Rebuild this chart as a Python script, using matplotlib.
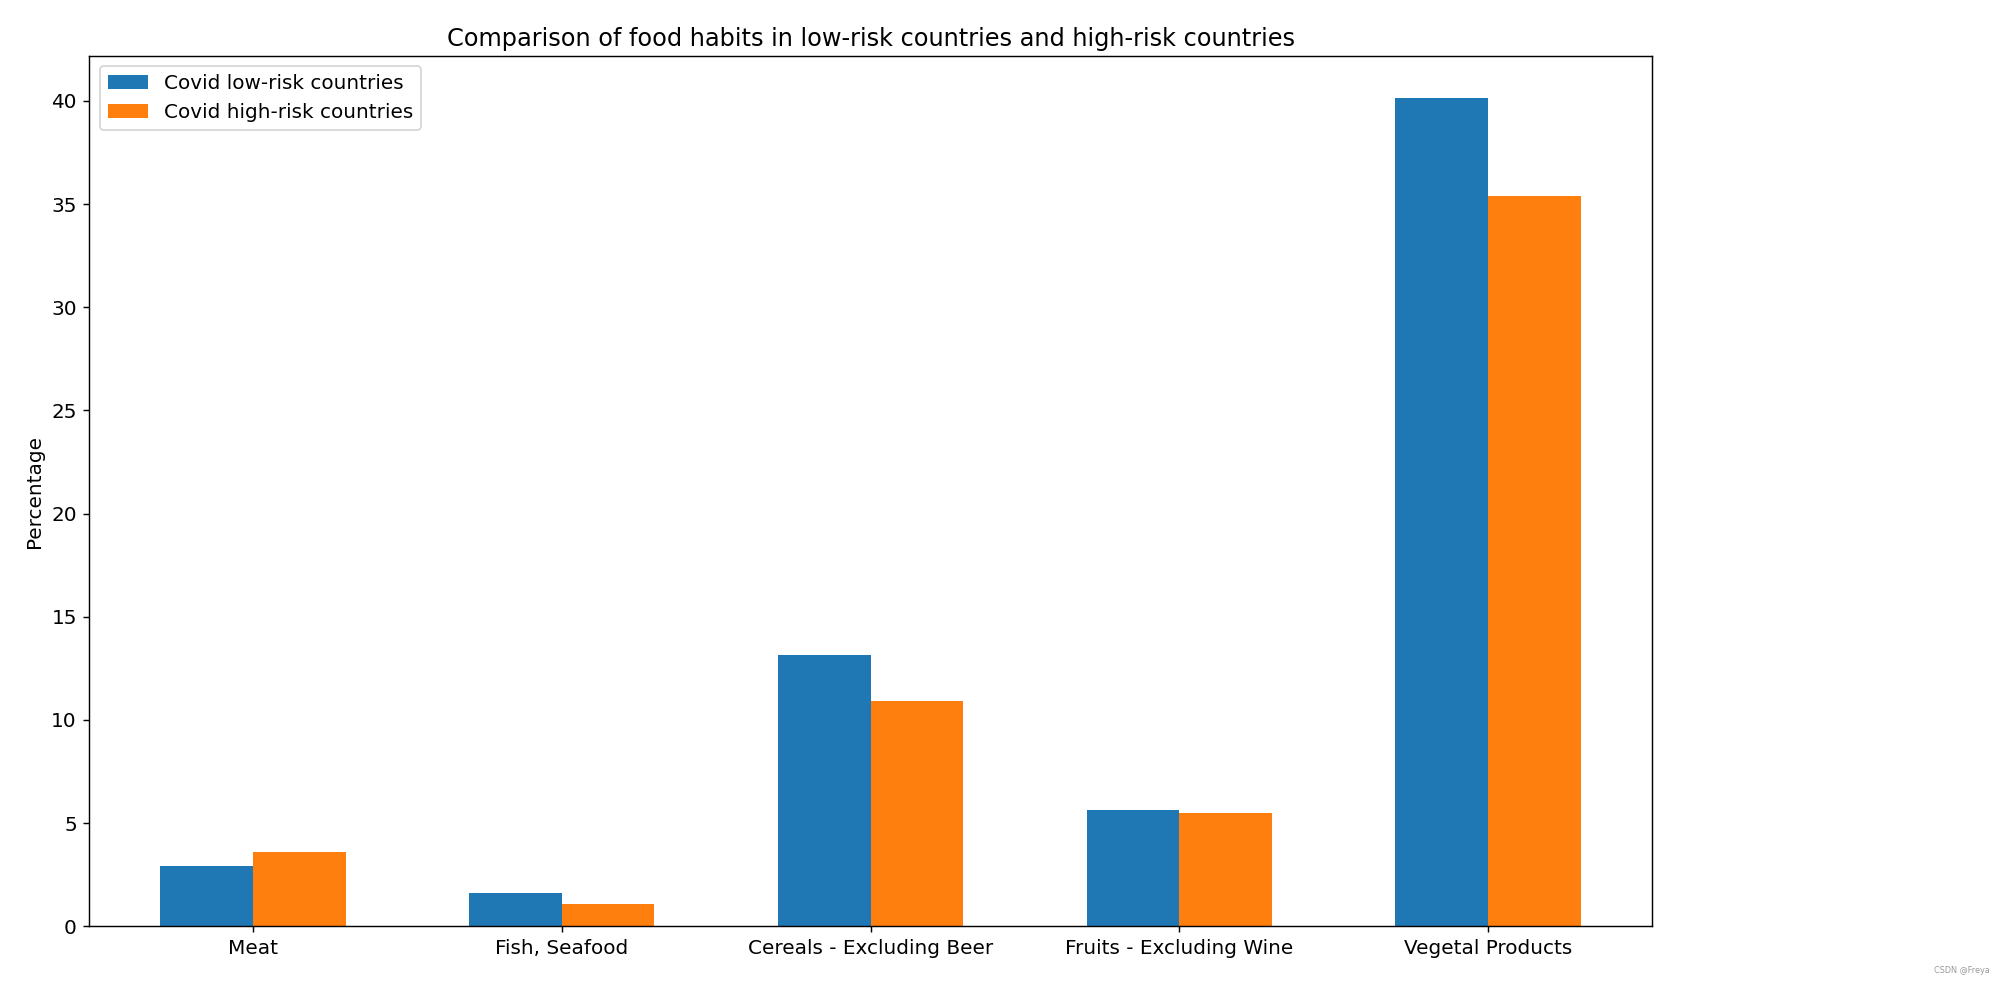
import numpy as np
import matplotlib
matplotlib.use('Agg')
import matplotlib.pyplot as plt

# 음식 카테고리별 비율
categories = ['Meat', 'Fish, Seafood', 'Cereals - Excluding Beer', 'Fruits - Excluding Wine', 'Vegetal Products']
low_risk = [2.94, 1.60, 13.13, 5.65, 40.15]
high_risk = [3.62, 1.10, 10.90, 5.47, 35.40]

plt.rcParams['font.size'] = 11.2

x = np.arange(len(categories))
width = 0.3

fig = plt.figure(figsize=(2006 / 129, 992 / 129), dpi=129)
ax = fig.add_axes([0.0446, 0.0663, 0.8233 - 0.0446, 0.9432 - 0.0663])
ax.bar(x - width / 2, low_risk, width, label='Covid low-risk countries')
ax.bar(x + width / 2, high_risk, width, label='Covid high-risk countries')
ax.set_xticks(x)
ax.set_xticklabels(categories)
ax.set_ylabel('Percentage')
ax.set_title('Comparison of food habits in low-risk countries and high-risk countries', fontsize=13.4)
ax.legend(loc='upper left')

fig.text(0.992, 0.017, 'CSDN @Freya', ha='right', va='bottom', fontsize=4.5, color='#999999')

fig.savefig('out.png', dpi=129)
